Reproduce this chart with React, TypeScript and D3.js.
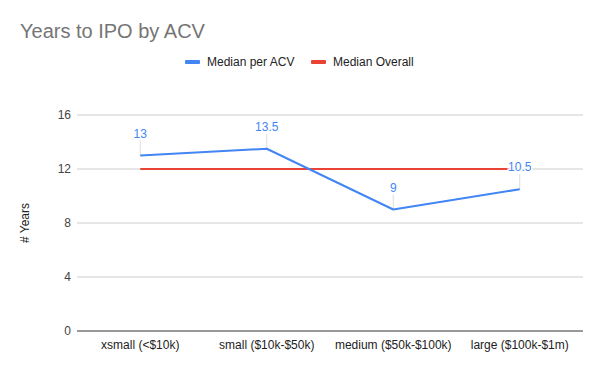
import React, { useEffect, useRef } from 'react';
import * as d3 from 'd3';

const categories = ['xsmall (<$10k)', 'small ($10k-$50k)', 'medium ($50k-$100k)', 'large ($100k-$1m)'];
const medianPerAcv = [13, 13.5, 9, 10.5];
const medianOverall = [12, 12, 12, 12];
const yTicks = [0, 4, 8, 12, 16];

const App: React.FC = () => {
  const svgRef = useRef<SVGSVGElement>(null);

  useEffect(() => {
    const svg = d3.select(svgRef.current);
    svg.selectAll('*').remove();
    const font = 'Arial, "Liberation Sans", sans-serif';
    const margin = { top: 115, right: 17, bottom: 40, left: 77 };
    const width = 600;
    const height = 371;

    const x = d3.scaleBand<string>().domain(categories).range([margin.left, width - margin.right]);
    const y = d3.scaleLinear().domain([0, 16]).range([height - margin.bottom, margin.top]);
    const cx = (c: string) => (x(c) as number) + x.bandwidth() / 2;

    svg.append('rect').attr('width', width).attr('height', height).attr('fill', '#fff');

    // title
    svg.append('text')
      .attr('x', 20).attr('y', 38)
      .attr('font-family', font).attr('font-size', 20)
      .attr('fill', '#757575')
      .text('Years to IPO by ACV');

    // legend
    const legend = [
      { label: 'Median per ACV', color: '#4285f4', x: 185 },
      { label: 'Median Overall', color: '#ea4335', x: 311 },
    ];
    legend.forEach(l => {
      svg.append('rect').attr('x', l.x).attr('y', 60).attr('width', 15).attr('height', 4).attr('rx', 1).attr('fill', l.color);
      svg.append('text')
        .attr('x', l.x + 22).attr('y', 66)
        .attr('font-family', font).attr('font-size', 12).attr('fill', '#222')
        .text(l.label);
    });

    // gridlines + y labels
    const grid = svg.append('g');
    yTicks.forEach(t => {
      if (t !== 0) {
        grid.append('line')
          .attr('x1', margin.left).attr('x2', width - margin.right)
          .attr('y1', y(t)).attr('y2', y(t))
          .attr('stroke', '#cccccc').attr('stroke-width', 1);
      }
      grid.append('text')
        .attr('x', 71).attr('y', y(t) + 4)
        .attr('text-anchor', 'end')
        .attr('font-family', font).attr('font-size', 12).attr('fill', '#444')
        .text(t);
    });

    // y axis title
    svg.append('text')
      .attr('transform', `translate(29,${(y(0) + y(16)) / 2}) rotate(-90)`)
      .attr('text-anchor', 'middle')
      .attr('font-family', font).attr('font-size', 12).attr('fill', '#222')
      .text('# Years');

    // baseline
    svg.append('line')
      .attr('x1', margin.left).attr('x2', width - margin.right)
      .attr('y1', y(0)).attr('y2', y(0))
      .attr('stroke', '#333').attr('stroke-width', 1);

    // x labels
    categories.forEach(c => {
      svg.append('text')
        .attr('x', cx(c)).attr('y', 349)
        .attr('text-anchor', 'middle')
        .attr('font-family', font).attr('font-size', 12).attr('fill', '#222')
        .text(c);
    });

    // leader lines for data labels
    medianPerAcv.forEach((v, i) => {
      svg.append('line')
        .attr('x1', cx(categories[i])).attr('x2', cx(categories[i]))
        .attr('y1', y(v) - 15).attr('y2', y(v))
        .attr('stroke', '#dddddd').attr('stroke-width', 1);
    });

    const line = d3.line<number>()
      .x((_, i) => cx(categories[i]))
      .y(d => y(d));

    svg.append('path')
      .datum(medianOverall)
      .attr('fill', 'none').attr('stroke', '#ea4335').attr('stroke-width', 2)
      .attr('d', line);

    svg.append('path')
      .datum(medianPerAcv)
      .attr('fill', 'none').attr('stroke', '#4285f4').attr('stroke-width', 2)
      .attr('stroke-linejoin', 'round')
      .attr('d', line);

    // data labels
    medianPerAcv.forEach((v, i) => {
      svg.append('text')
        .attr('x', cx(categories[i])).attr('y', y(v) - 18)
        .attr('text-anchor', 'middle')
        .attr('font-family', font).attr('font-size', 12)
        .attr('fill', '#4285f4')
        .attr('stroke', '#fff').attr('stroke-width', 3).attr('paint-order', 'stroke')
        .text(v);
    });
  }, []);

  return (
    <svg ref={svgRef} width={600} height={371} style={{ display: 'block', position: 'absolute', left: 0, top: 0 }}></svg>
  );
};

export default App;
